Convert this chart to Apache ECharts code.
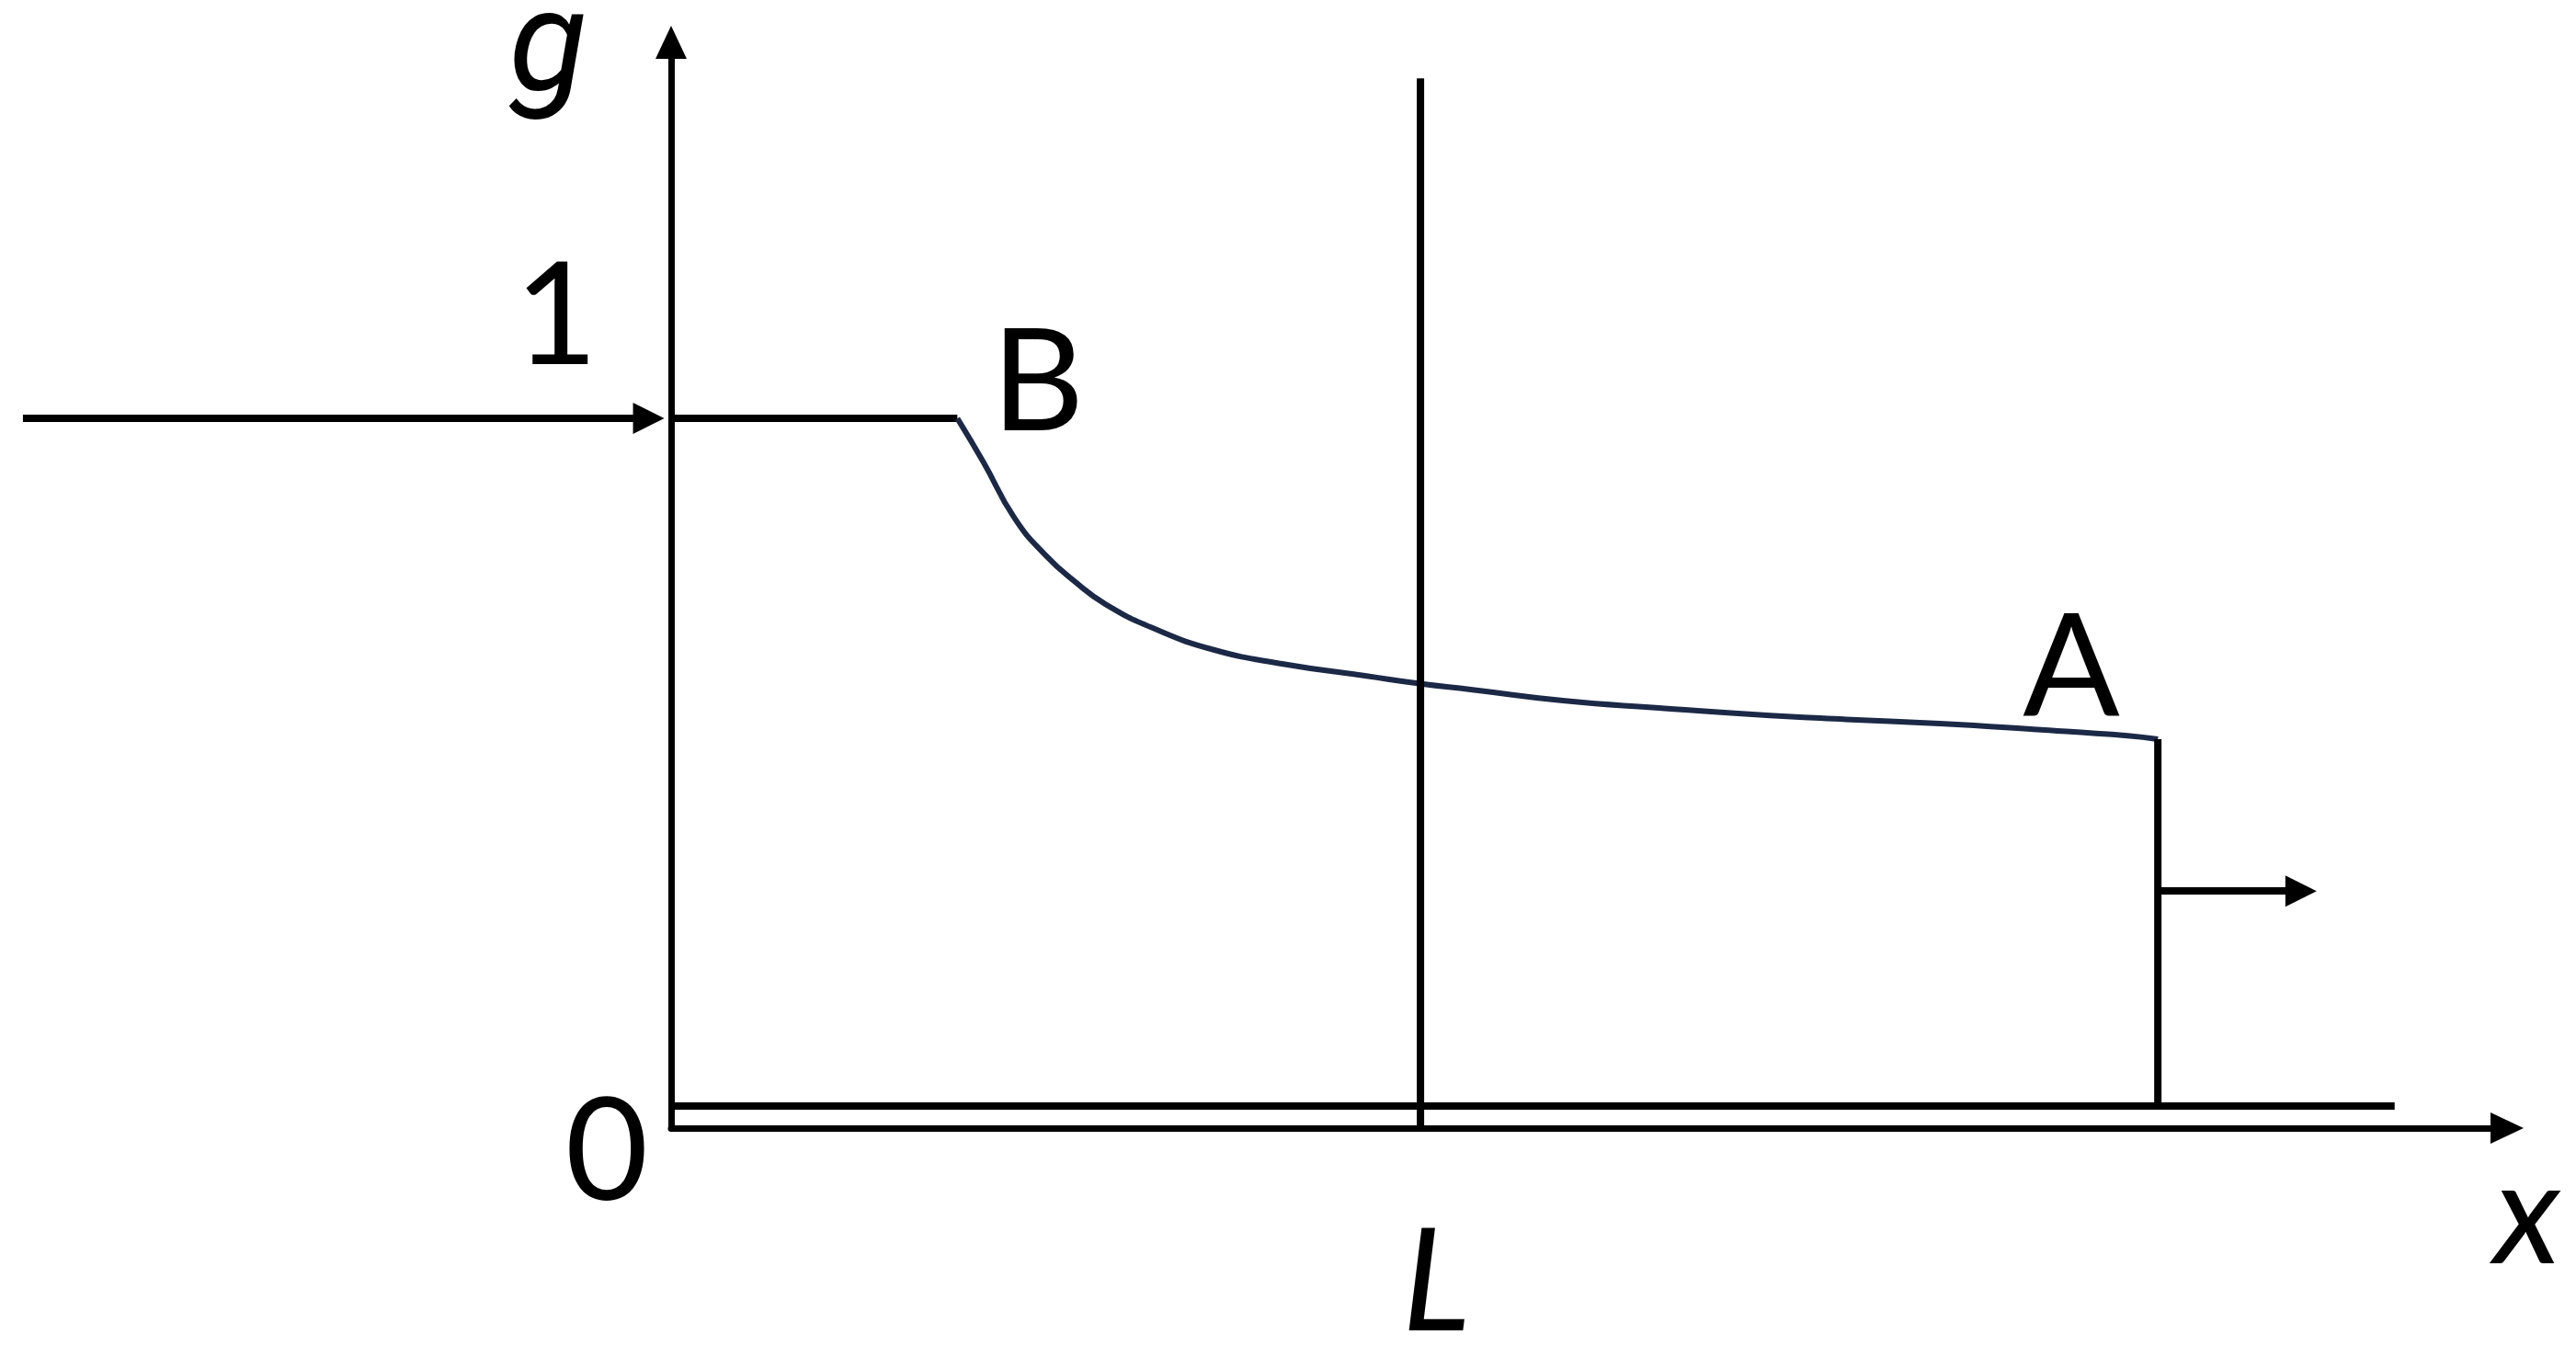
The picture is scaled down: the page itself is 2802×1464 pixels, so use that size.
<!DOCTYPE html>
<html>
<head>
<meta charset="utf-8">
<title>g(x)</title>
<script src="https://cdn.jsdelivr.net/npm/echarts@6/dist/echarts.min.js"></script>
<style>
  html, body { margin: 0; padding: 0; background: #fff; }
  #myChart { width: 2802px; height: 1464px; }
</style>
</head>
<body>
<div id="myChart"></div>
<script>
// x in units of L, g from 0 to 1
const inletArrow = [[-0.865, 1], [-0.03, 1]];
const outletArrow = [[1.984, 0.334], [2.175, 0.334]];
const plateau = [[0, 1], [0.382, 1]];
const curve = [
  [0.382, 1.000], [0.417, 0.938], [0.458, 0.860], [0.499, 0.808],
  [0.540, 0.769], [0.580, 0.738], [0.642, 0.705], [0.724, 0.674],
  [0.817, 0.654], [0.928, 0.637], [1.001, 0.626], [1.067, 0.618],
  [1.193, 0.602], [1.318, 0.592], [1.443, 0.583], [1.568, 0.576],
  [1.693, 0.570], [1.818, 0.562], [1.944, 0.553], [1.984, 0.548]
];
const dropAtA = [[1.984, 0.548], [1.984, 0.031]];
const floorLine = [[0, 0.031], [2.30, 0.031]];
const lineAtL = [[1, 0], [1, 1.479]];

let myChart = echarts.init(document.getElementById('myChart'));

const font = 'Lato, "Open Sans", sans-serif';
function label(text, x, y, italic, family) {
  return {
    type: 'text',
    x: x,
    y: y,
    style: {
      text: text,
      fontFamily: family || font,
      fontSize: 156,
      fontStyle: italic ? 'italic' : 'normal',
      fill: '#000',
      align: 'center',
      verticalAlign: 'middle'
    }
  };
}

function plain(data, color, width) {
  return {
    type: 'line',
    data: data,
    showSymbol: false,
    symbol: 'none',
    silent: true,
    clip: false,
    lineStyle: { color: color, width: width },
    z: 3
  };
}

let option = {
  animation: false,
  backgroundColor: '#fff',
  grid: { left: 730, top: 46, width: 1997, height: 1181, containLabel: false, outerBoundsMode: 'none' },
  xAxis: {
    type: 'value',
    min: 0,
    max: 2.45,
    axisLine: {
      show: true,
      symbol: ['none', 'triangle'],
      symbolSize: [34, 36],
      lineStyle: { color: '#000', width: 7 }
    },
    axisTick: { show: false },
    axisLabel: { show: false },
    splitLine: { show: false }
  },
  yAxis: {
    type: 'value',
    min: 0,
    max: 1.53,
    axisLine: {
      show: true,
      symbol: ['none', 'triangle'],
      symbolSize: [34, 36],
      lineStyle: { color: '#000', width: 7 }
    },
    axisTick: { show: false },
    axisLabel: { show: false },
    splitLine: { show: false }
  },
  series: [
    plain(plateau, '#000', 8),
    {
      type: 'line',
      data: curve,
      smooth: 0.5,
      showSymbol: false,
      symbol: 'none',
      silent: true,
      lineStyle: { color: '#1c2946', width: 6 },
      z: 3
    },
    plain(dropAtA, '#000', 8),
    plain(floorLine, '#000', 8),
    plain(lineAtL, '#000', 8),
    {
      type: 'lines',
      coordinateSystem: 'cartesian2d',
      clip: false,
      silent: true,
      symbol: ['none', 'triangle'],
      symbolSize: [34, 34],
      lineStyle: { color: '#000', width: 8, opacity: 1, curveness: 0 },
      data: [{ coords: inletArrow }, { coords: outletArrow }],
      z: 4
    }
  ],
  graphic: [
    label('g', 596, 58, true, 'Roboto, sans-serif'),
    label('1', 605, 346, false),
    label('B', 1129, 418, false),
    label('A', 2253, 728, false),
    label('0', 660, 1255, false),
    label('L', 1562, 1397, true),
    label('x', 2749, 1324, true)
  ]
};

myChart.setOption(option);

window.addEventListener('resize', () => {
  myChart.resize();
});
</script>
</body>
</html>
